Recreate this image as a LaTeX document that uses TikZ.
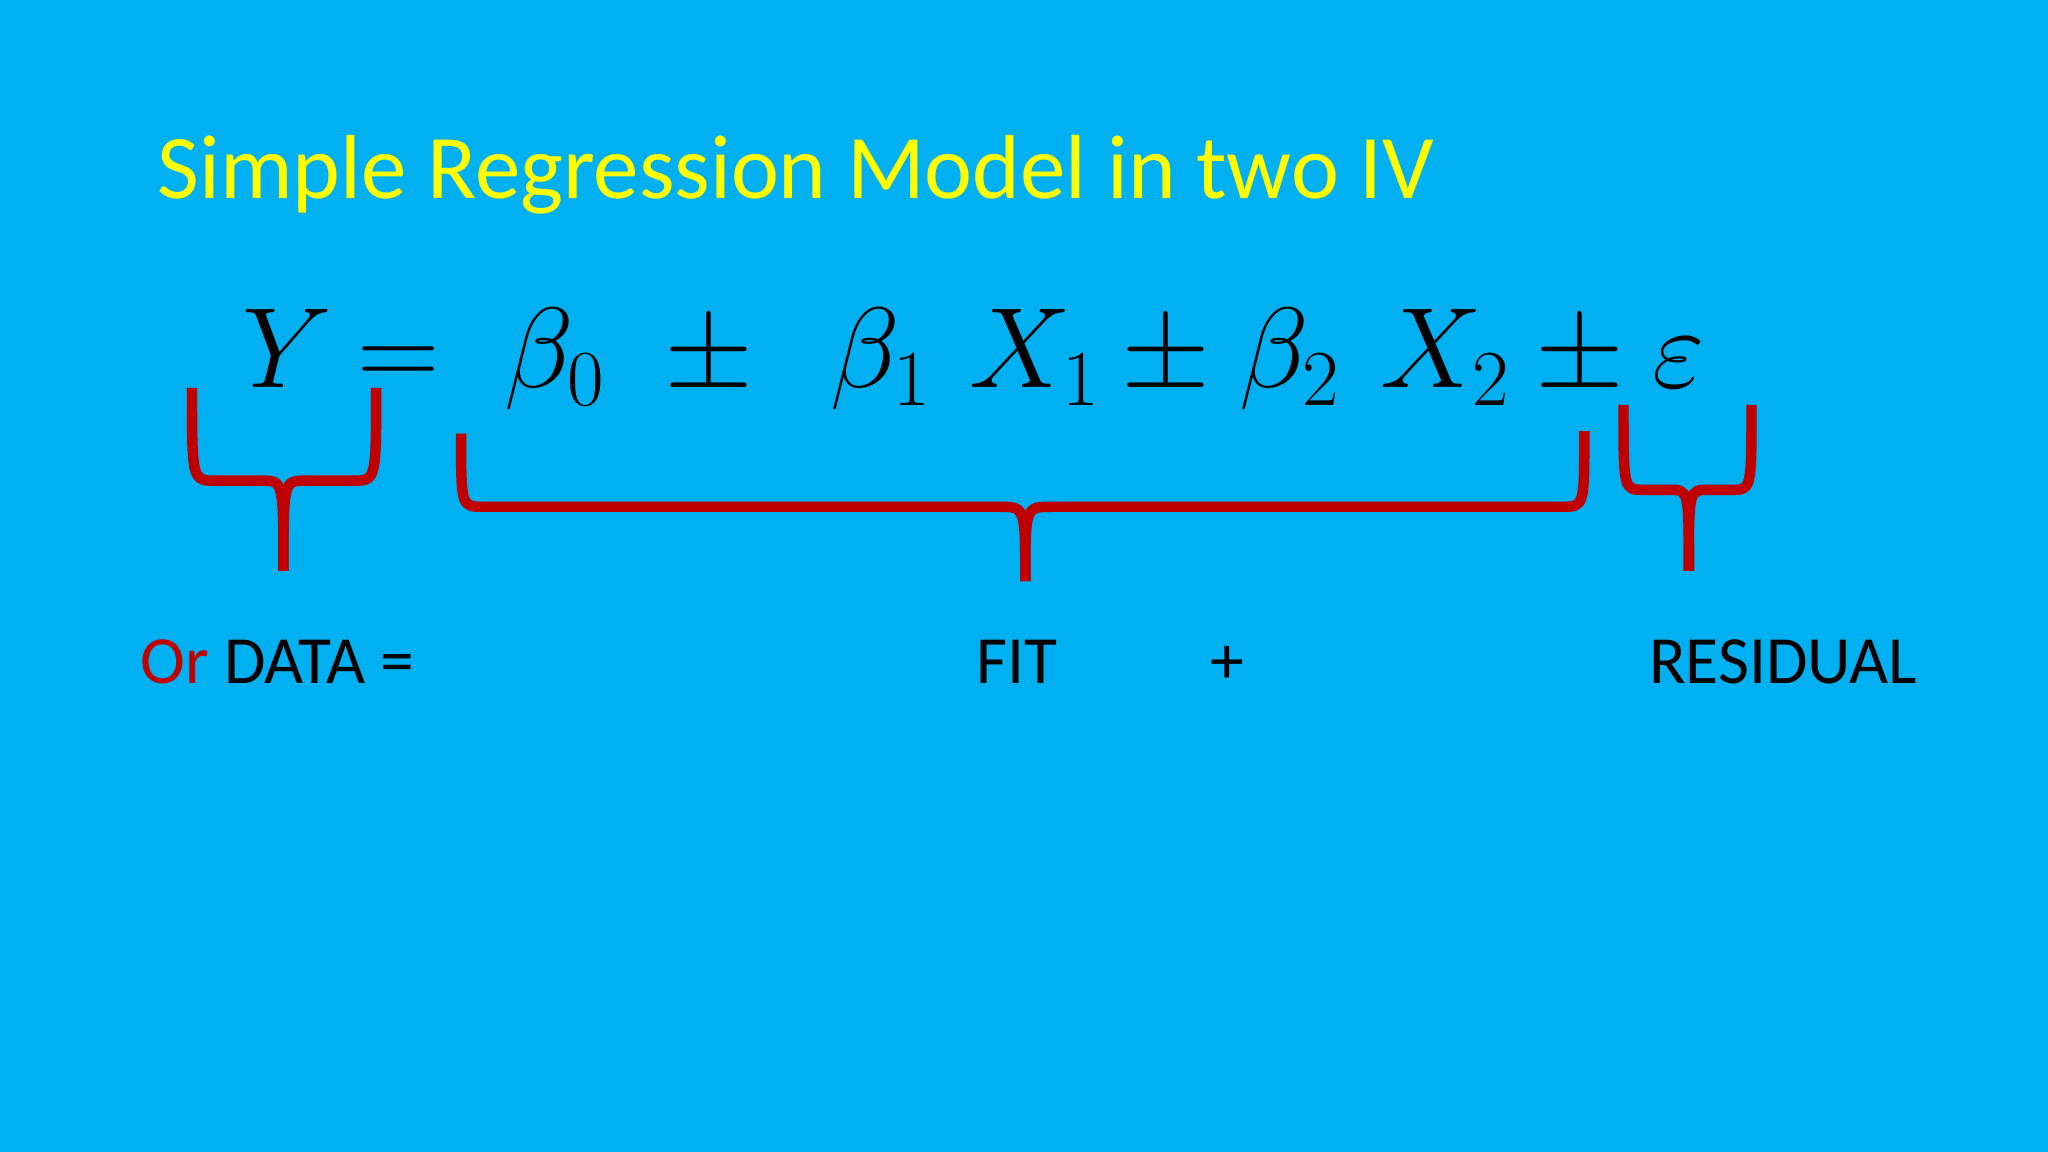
\documentclass[tikz,border=0pt]{standalone}
\usepackage{fontspec}
\setmainfont{Carlito}
\begin{document}
\begin{tikzpicture}[x=0.01cm,y=-0.01cm,
  eq/.style={anchor=base,inner sep=0pt,font=\fontsize{25}{30}\selectfont},
  lbl/.style={anchor=base west,inner sep=0pt,font=\fontsize{14.7}{18}\selectfont},
  brace/.style={draw=bred,line width=0.08cm,line join=round}]
\definecolor{bg}{HTML}{00B0F0}
\definecolor{bred}{HTML}{C00000}
\definecolor{ttl}{HTML}{FFFF00}
\fill[bg] (0,0) rectangle (1568,882);
\useasboundingbox (0,0) rectangle (1568,882);
\node[anchor=base west,inner sep=0pt,text=ttl,font=\fontsize{19.8}{24}\selectfont] (title) at (120,152) {Simple Regression Model in two IV};
\node[eq] (Y) at (220,297) {$Y$};
\node[eq] (eqs) at (305,297) {$=$};
\node[eq] (b0) at (425,297) {$\beta_0$};
\node[eq] (pm1) at (543,297) {$\pm$};
\node[eq] (b1) at (675,297) {$\beta_1$};
\node[eq] (x1) at (793,297) {$X_1$};
\node[eq] (pm2) at (893,297) {$\pm$};
\node[eq] (b2) at (988,297) {$\beta_2$};
\node[eq] (x2) at (1107,297) {$X_2$};
\node[eq] (pm3) at (1210,297) {$\pm$};
\node[eq] (eps) at (1285,297) {$\varepsilon$};
% braces
\draw[brace] (147,297) .. controls (147,368) .. (165,368) -- (200,368) .. controls (217,368) .. (217,437);
\draw[brace] (288,297) .. controls (288,368) .. (270,368) -- (234,368) .. controls (217,368) .. (217,437);
\draw[brace] (353,332) .. controls (353,388) .. (370,388) -- (765,388) .. controls (785,388) .. (785,445);
\draw[brace] (1213,330) .. controls (1213,388) .. (1196,388) -- (805,388) .. controls (785,388) .. (785,445);
\draw[brace] (1243,310) .. controls (1243,375) .. (1258,375) -- (1278,375) .. controls (1293,375) .. (1293,437);
\draw[brace] (1341,310) .. controls (1341,375) .. (1326,375) -- (1308,375) .. controls (1293,375) .. (1293,437);
\node[lbl] (data) at (107,523) {\textcolor{bred}{Or} DATA =};
\node[lbl] (fit) at (747,523) {FIT};
\node[lbl] (plus) at (926,523) {+};
\node[lbl] (res) at (1262,523) {RESIDUAL};
\end{tikzpicture}
\end{document}
